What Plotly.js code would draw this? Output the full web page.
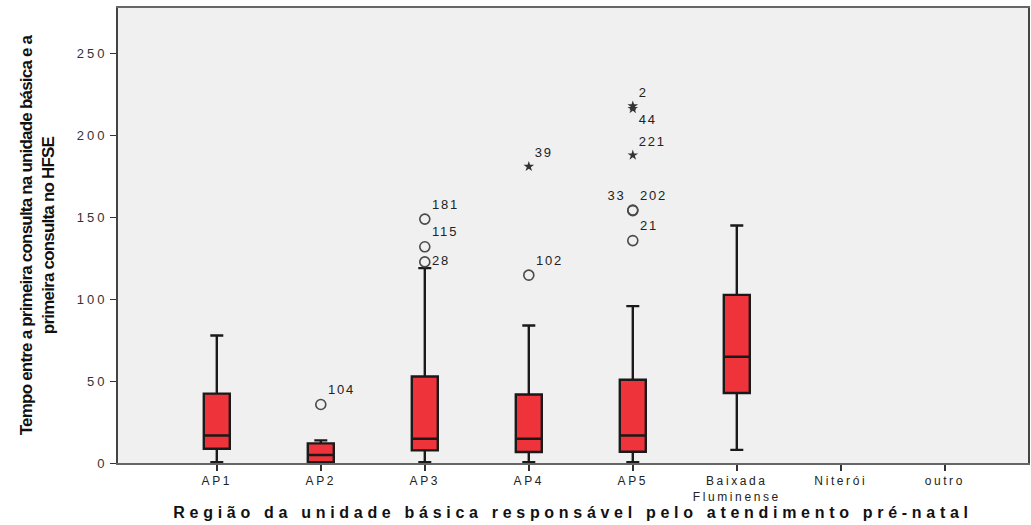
<!DOCTYPE html>
<html><head><meta charset="utf-8">
<script src="https://cdn.plot.ly/plotly-3.0.1.min.js"></script>
<style>body{margin:0;background:#fff}#chart{width:1031px;height:525px}
.xtitle{letter-spacing:4.7px}
.ytitle{letter-spacing:-0.8px}
.xtick text{letter-spacing:2.6px}
.ytick text{letter-spacing:3px}
.textpoint text{letter-spacing:1.8px}
</style>
</head><body><div id="chart"></div>
<script>
// Categories (all shown on axis)
const categories = ["AP1","AP2","AP3","AP4","AP5","Baixada Fluminense","Niterói","outro"];
const tickLabels = ["AP1","AP2","AP3","AP4","AP5","Baixada<br>Fluminense","Niterói","outro"];
// Box statistics for groups with data
const boxGroups = ["AP1","AP2","AP3","AP4","AP5","Baixada Fluminense"];
const lowerWhisker = [0.5, 0, 0.5, 0.5, 0.5, 8];
const q1 = [8.7, 0.5, 7.7, 6.7, 6.9, 42.7];
const median = [16.8, 4.9, 14.8, 14.8, 16.8, 64.8];
const q3 = [42.3, 12, 52.8, 41.8, 50.8, 102.6];
const upperWhisker = [77.8, 13.8, 118.9, 83.9, 95.7, 144.9];
// Outliers (circles) and extremes (stars)
const outlierGroup = ["AP2","AP3","AP3","AP3","AP4","AP5","AP5","AP5"];
const outlierValue = [35.7, 148.8, 131.9, 122.7, 114.6, 154.0, 154.3, 135.7];
const outlierLabel = ["104","181","115","28","102","33","202","21"];
const extremeGroup = ["AP4","AP5","AP5","AP5"];
const extremeValue = [180.9, 217.8, 216.2, 187.8];
const extremeLabel = ["39","2","44","221"];

const outlierPos = {"33":"top left","28":"middle right"};
const extremePos = {"44":"bottom right"};

const traces = [
  {
    type: "box", x: boxGroups, q1: q1, median: median, q3: q3,
    lowerfence: lowerWhisker, upperfence: upperWhisker,
    boxpoints: false, width: 0.25, whiskerwidth: 0.5,
    fillcolor: "#ef333b", line: {color: "#1a1a1a", width: 2.4},
    hoverinfo: "skip", showlegend: false
  },
  {
    type: "scatter", mode: "markers+text", x: outlierGroup, y: outlierValue,
    text: outlierLabel,
    textposition: outlierLabel.map(l => outlierPos[l] || "top right"),
    textfont: {family: "Arial, Liberation Sans, sans-serif", size: 13, color: "#222"},
    marker: {symbol: "circle-open", size: 10, color: "#4a4a4a", line: {width: 1.6}},
    showlegend: false, cliponaxis: false
  },
  {
    type: "scatter", mode: "markers+text", x: extremeGroup, y: extremeValue,
    text: extremeLabel,
    textposition: extremeLabel.map(l => extremePos[l] || "top right"),
    textfont: {family: "Arial, Liberation Sans, sans-serif", size: 13, color: "#222"},
    marker: {symbol: "star", size: 8, color: "#333"},
    showlegend: false, cliponaxis: false
  }
];

const layout = {
  width: 1031, height: 525,
  margin: {l: 118, r: 3, t: 8, b: 62},
  paper_bgcolor: "#ffffff", plot_bgcolor: "#f0f0f0",
  font: {family: "Arial, Liberation Sans, sans-serif", color: "#222"},
  xaxis: {
    type: "category", categoryorder: "array", categoryarray: categories,
    tickvals: categories, ticktext: tickLabels,
    range: [-0.95, 7.8], showgrid: false, zeroline: false,
    ticks: "outside", ticklen: 6, tickcolor: "#333", tickwidth: 2,
    showline: true, linecolor: "#666", linewidth: 2, mirror: true,
    tickfont: {size: 12, color: "#222"},
    title: {text: "Região da unidade básica responsável pelo atendimento pré-natal",
            font: {size: 16, color: "#111", family: "Arial, Liberation Sans, sans-serif", weight: "bold"},
            standoff: 4}
  },
  yaxis: {
    range: [0, 277.6], tickvals: [0,50,100,150,200,250],
    showgrid: false, zeroline: false,
    ticks: "outside", ticklen: 6, tickcolor: "#333", tickwidth: 1,
    showline: true, linecolor: "#444", linewidth: 2, mirror: true,
    tickfont: {size: 13, color: "#333"},
    title: {text: "Tempo entre a primeira consulta na unidade básica e a<br>primeira consulta no HFSE",
            font: {size: 17, color: "#111", family: "Arial, Liberation Sans, sans-serif", weight: "bold"},
            standoff: 18}
  }
};

Plotly.newPlot("chart", traces, layout, {displayModeBar: false, staticPlot: true});
</script></body></html>
